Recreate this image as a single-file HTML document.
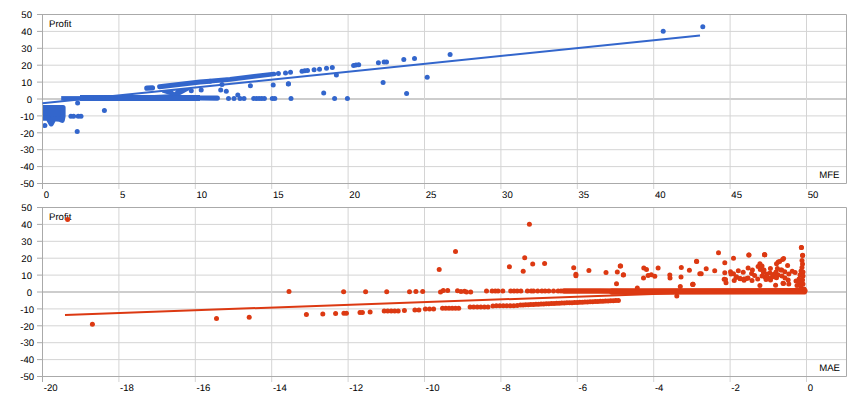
<!DOCTYPE html>
<html><head><meta charset="utf-8"><style>
html,body{margin:0;padding:0;background:#fff;width:860px;height:400px;overflow:hidden}
svg{display:block}
text{font-family:"Liberation Sans",sans-serif;font-size:9.6px;text-rendering:geometricPrecision;fill:#000000}
</style></head><body>
<svg width="860" height="400" viewBox="0 0 860 400">
<rect width="860" height="400" fill="#fff"/>
<line x1="42" y1="31.4" x2="846" y2="31.4" stroke="#d4d4d4" stroke-width="1"/>
<line x1="42" y1="48.3" x2="846" y2="48.3" stroke="#d4d4d4" stroke-width="1"/>
<line x1="42" y1="65.2" x2="846" y2="65.2" stroke="#d4d4d4" stroke-width="1"/>
<line x1="42" y1="82.1" x2="846" y2="82.1" stroke="#d4d4d4" stroke-width="1"/>
<line x1="42" y1="99" x2="846" y2="99" stroke="#cdcdcd" stroke-width="2"/>
<line x1="42" y1="115.9" x2="846" y2="115.9" stroke="#d4d4d4" stroke-width="1"/>
<line x1="42" y1="132.8" x2="846" y2="132.8" stroke="#d4d4d4" stroke-width="1"/>
<line x1="42" y1="149.7" x2="846" y2="149.7" stroke="#d4d4d4" stroke-width="1"/>
<line x1="42" y1="166.6" x2="846" y2="166.6" stroke="#d4d4d4" stroke-width="1"/>
<line x1="118.9" y1="14" x2="118.9" y2="189" stroke="#d4d4d4" stroke-width="1"/>
<line x1="195.3" y1="14" x2="195.3" y2="189" stroke="#d4d4d4" stroke-width="1"/>
<line x1="271.7" y1="14" x2="271.7" y2="189" stroke="#d4d4d4" stroke-width="1"/>
<line x1="348.1" y1="14" x2="348.1" y2="189" stroke="#d4d4d4" stroke-width="1"/>
<line x1="424.5" y1="14" x2="424.5" y2="189" stroke="#d4d4d4" stroke-width="1"/>
<line x1="500.9" y1="14" x2="500.9" y2="189" stroke="#d4d4d4" stroke-width="1"/>
<line x1="577.3" y1="14" x2="577.3" y2="189" stroke="#d4d4d4" stroke-width="1"/>
<line x1="653.7" y1="14" x2="653.7" y2="189" stroke="#d4d4d4" stroke-width="1"/>
<line x1="730.1" y1="14" x2="730.1" y2="189" stroke="#d4d4d4" stroke-width="1"/>
<line x1="806.5" y1="14" x2="806.5" y2="189" stroke="#d4d4d4" stroke-width="1"/>
<line x1="37" y1="14.5" x2="42" y2="14.5" stroke="#aaaaaa" stroke-width="1"/>
<line x1="37" y1="31.4" x2="42" y2="31.4" stroke="#aaaaaa" stroke-width="1"/>
<line x1="37" y1="48.3" x2="42" y2="48.3" stroke="#aaaaaa" stroke-width="1"/>
<line x1="37" y1="65.2" x2="42" y2="65.2" stroke="#aaaaaa" stroke-width="1"/>
<line x1="37" y1="82.1" x2="42" y2="82.1" stroke="#aaaaaa" stroke-width="1"/>
<line x1="37" y1="99" x2="42" y2="99" stroke="#aaaaaa" stroke-width="1"/>
<line x1="37" y1="115.9" x2="42" y2="115.9" stroke="#aaaaaa" stroke-width="1"/>
<line x1="37" y1="132.8" x2="42" y2="132.8" stroke="#aaaaaa" stroke-width="1"/>
<line x1="37" y1="149.7" x2="42" y2="149.7" stroke="#aaaaaa" stroke-width="1"/>
<line x1="37" y1="166.6" x2="42" y2="166.6" stroke="#aaaaaa" stroke-width="1"/>
<line x1="37" y1="183.5" x2="42" y2="183.5" stroke="#aaaaaa" stroke-width="1"/>
<line x1="42.5" y1="14" x2="42.5" y2="189" stroke="#aaaaaa" stroke-width="1"/>
<path d="M42 14.5 H846.5 V183.5 H42" fill="none" stroke="#aaaaaa" stroke-width="1"/>
<text x="32" y="18.2" text-anchor="end">50</text>
<text x="32" y="35.1" text-anchor="end">40</text>
<text x="32" y="52" text-anchor="end">30</text>
<text x="32" y="68.9" text-anchor="end">20</text>
<text x="32" y="85.8" text-anchor="end">10</text>
<text x="32" y="102.7" text-anchor="end">0</text>
<text x="34.2" y="119.6" text-anchor="end">-10</text>
<text x="34.2" y="136.5" text-anchor="end">-20</text>
<text x="34.2" y="153.4" text-anchor="end">-30</text>
<text x="34.2" y="170.3" text-anchor="end">-40</text>
<text x="34.2" y="187.2" text-anchor="end">-50</text>
<text x="43.7" y="198">0</text>
<text x="120.1" y="198">5</text>
<text x="196.5" y="198">10</text>
<text x="272.9" y="198">15</text>
<text x="349.3" y="198">20</text>
<text x="425.7" y="198">25</text>
<text x="502.1" y="198">30</text>
<text x="578.5" y="198">35</text>
<text x="654.9" y="198">40</text>
<text x="731.3" y="198">45</text>
<text x="807.7" y="198">50</text>
<text x="49" y="27">Profit</text>
<text x="819.2" y="178">MFE</text>
<g clip-path="url(#clip14)" fill="#3366cc" color="#3366cc" stroke="none"><path d="M40.0 107.4 L63.1 107.4 L63.1 116.2 L62.3 120.4 L59.5 119.2 L54.0 118.8 L51.2 124.0 L48.0 118.3 L40.0 118.3Z" stroke="currentColor" stroke-width="5" stroke-linejoin="round"/><rect x="61.2" y="96.1" width="19.8" height="4.4"/><rect x="80" y="95.0" width="120" height="6.0"/><path d="M200.0 98.0 L217.3 98.1" fill="none" stroke="currentColor" stroke-width="5.2" stroke-linecap="round" stroke-linejoin="round"/><path d="M146.9 88.1 L152.4 87.9" fill="none" stroke="currentColor" stroke-width="5.4" stroke-linecap="round" stroke-linejoin="round"/><path d="M159.6 86.7 L200.0 82.0 L210.0 81.2" fill="none" stroke="currentColor" stroke-width="5.0" stroke-linecap="round" stroke-linejoin="round"/><path d="M210.0 81.2 L230.0 79.3 L274.0 74.0" fill="none" stroke="currentColor" stroke-width="4.7" stroke-linecap="round" stroke-linejoin="round"/><path d="M128 96.2 L170 94.3 L172 97 L128 97Z"/><path d="M162 92.6 L170 95.0 L178.8 95.8 L189.5 90.0 L189.5 88.0 L162 91.2Z"/><path d="M172.3 90.6 L176.3 90.6 L174.3 92.3Z" fill="#fff"/><circle cx="663.2" cy="31.2" r="2.5"/><circle cx="702.8" cy="26.8" r="2.5"/><circle cx="44.9" cy="125.6" r="2.5"/><circle cx="77.6" cy="103" r="2.5"/><circle cx="77.2" cy="131.5" r="2.5"/><circle cx="104.4" cy="110.6" r="2.5"/><circle cx="70.9" cy="116.3" r="2.5"/><circle cx="73.6" cy="116.3" r="2.5"/><circle cx="78.2" cy="116.3" r="2.5"/><circle cx="81" cy="116.3" r="2.5"/><circle cx="191.3" cy="90.8" r="2.5"/><circle cx="201.2" cy="89.9" r="2.5"/><circle cx="220.7" cy="89.9" r="2.5"/><circle cx="226.3" cy="91.3" r="2.5"/><circle cx="222" cy="84.6" r="2.5"/><circle cx="228.5" cy="98.4" r="2.5"/><circle cx="234" cy="98.4" r="2.5"/><circle cx="237.8" cy="94.9" r="2.5"/><circle cx="240" cy="98.4" r="2.5"/><circle cx="244" cy="98.4" r="2.5"/><circle cx="253.7" cy="98.4" r="2.5"/><circle cx="256.38" cy="98.4" r="2.5"/><circle cx="259.05" cy="98.4" r="2.5"/><circle cx="261.72" cy="98.4" r="2.5"/><circle cx="264.4" cy="98.4" r="2.5"/><circle cx="272.3" cy="98.4" r="2.5"/><circle cx="274.8" cy="98.4" r="2.5"/><circle cx="291" cy="98.4" r="2.5"/><circle cx="250.4" cy="85.8" r="2.5"/><circle cx="273.2" cy="85.1" r="2.5"/><circle cx="288.3" cy="84" r="2.5"/><circle cx="288.5" cy="83.7" r="2.5"/><circle cx="278.4" cy="73.5" r="2.5"/><circle cx="285.5" cy="73.1" r="2.5"/><circle cx="290.5" cy="72.3" r="2.5"/><circle cx="302" cy="71.3" r="2.5"/><circle cx="304.8" cy="70.8" r="2.5"/><circle cx="307.5" cy="70.4" r="2.5"/><circle cx="314.1" cy="69.7" r="2.5"/><circle cx="319.5" cy="69.3" r="2.5"/><circle cx="326.5" cy="68.3" r="2.5"/><circle cx="332.3" cy="67.6" r="2.5"/><circle cx="336.4" cy="75" r="2.5"/><circle cx="353.6" cy="65.4" r="2.5"/><circle cx="356" cy="65" r="2.5"/><circle cx="358.7" cy="64.7" r="2.5"/><circle cx="378.4" cy="62.8" r="2.5"/><circle cx="384.1" cy="61.9" r="2.5"/><circle cx="386.5" cy="61.9" r="2.5"/><circle cx="403.8" cy="59.6" r="2.5"/><circle cx="414.5" cy="58.5" r="2.5"/><circle cx="450.1" cy="54.4" r="2.5"/><circle cx="383.1" cy="82.5" r="2.5"/><circle cx="406.6" cy="93.4" r="2.5"/><circle cx="427.2" cy="77.3" r="2.5"/><circle cx="323.7" cy="92.9" r="2.5"/><circle cx="334.6" cy="98.4" r="2.5"/><circle cx="347.4" cy="98.4" r="2.5"/></g>
<clipPath id="clip14"><rect x="43" y="15" width="803" height="168"/></clipPath>
<line x1="42.5" y1="103.3" x2="700" y2="35.5" stroke="#3366cc" stroke-width="2"/>
<line x1="42" y1="224.4" x2="846" y2="224.4" stroke="#d4d4d4" stroke-width="1"/>
<line x1="42" y1="241.3" x2="846" y2="241.3" stroke="#d4d4d4" stroke-width="1"/>
<line x1="42" y1="258.2" x2="846" y2="258.2" stroke="#d4d4d4" stroke-width="1"/>
<line x1="42" y1="275.1" x2="846" y2="275.1" stroke="#d4d4d4" stroke-width="1"/>
<line x1="42" y1="292" x2="846" y2="292" stroke="#cdcdcd" stroke-width="2"/>
<line x1="42" y1="308.9" x2="846" y2="308.9" stroke="#d4d4d4" stroke-width="1"/>
<line x1="42" y1="325.8" x2="846" y2="325.8" stroke="#d4d4d4" stroke-width="1"/>
<line x1="42" y1="342.7" x2="846" y2="342.7" stroke="#d4d4d4" stroke-width="1"/>
<line x1="42" y1="359.6" x2="846" y2="359.6" stroke="#d4d4d4" stroke-width="1"/>
<line x1="118.9" y1="207" x2="118.9" y2="382" stroke="#d4d4d4" stroke-width="1"/>
<line x1="195.3" y1="207" x2="195.3" y2="382" stroke="#d4d4d4" stroke-width="1"/>
<line x1="271.7" y1="207" x2="271.7" y2="382" stroke="#d4d4d4" stroke-width="1"/>
<line x1="348.1" y1="207" x2="348.1" y2="382" stroke="#d4d4d4" stroke-width="1"/>
<line x1="424.5" y1="207" x2="424.5" y2="382" stroke="#d4d4d4" stroke-width="1"/>
<line x1="500.9" y1="207" x2="500.9" y2="382" stroke="#d4d4d4" stroke-width="1"/>
<line x1="577.3" y1="207" x2="577.3" y2="382" stroke="#d4d4d4" stroke-width="1"/>
<line x1="653.7" y1="207" x2="653.7" y2="382" stroke="#d4d4d4" stroke-width="1"/>
<line x1="730.1" y1="207" x2="730.1" y2="382" stroke="#d4d4d4" stroke-width="1"/>
<line x1="806.5" y1="207" x2="806.5" y2="382" stroke="#d4d4d4" stroke-width="1"/>
<line x1="37" y1="207.5" x2="42" y2="207.5" stroke="#aaaaaa" stroke-width="1"/>
<line x1="37" y1="224.4" x2="42" y2="224.4" stroke="#aaaaaa" stroke-width="1"/>
<line x1="37" y1="241.3" x2="42" y2="241.3" stroke="#aaaaaa" stroke-width="1"/>
<line x1="37" y1="258.2" x2="42" y2="258.2" stroke="#aaaaaa" stroke-width="1"/>
<line x1="37" y1="275.1" x2="42" y2="275.1" stroke="#aaaaaa" stroke-width="1"/>
<line x1="37" y1="292" x2="42" y2="292" stroke="#aaaaaa" stroke-width="1"/>
<line x1="37" y1="308.9" x2="42" y2="308.9" stroke="#aaaaaa" stroke-width="1"/>
<line x1="37" y1="325.8" x2="42" y2="325.8" stroke="#aaaaaa" stroke-width="1"/>
<line x1="37" y1="342.7" x2="42" y2="342.7" stroke="#aaaaaa" stroke-width="1"/>
<line x1="37" y1="359.6" x2="42" y2="359.6" stroke="#aaaaaa" stroke-width="1"/>
<line x1="37" y1="376.5" x2="42" y2="376.5" stroke="#aaaaaa" stroke-width="1"/>
<line x1="42.5" y1="207" x2="42.5" y2="382" stroke="#aaaaaa" stroke-width="1"/>
<path d="M42 207.5 H846.5 V376.5 H42" fill="none" stroke="#aaaaaa" stroke-width="1"/>
<text x="32" y="211.2" text-anchor="end">50</text>
<text x="32" y="228.1" text-anchor="end">40</text>
<text x="32" y="245" text-anchor="end">30</text>
<text x="32" y="261.9" text-anchor="end">20</text>
<text x="32" y="278.8" text-anchor="end">10</text>
<text x="32" y="295.7" text-anchor="end">0</text>
<text x="34.2" y="312.6" text-anchor="end">-10</text>
<text x="34.2" y="329.5" text-anchor="end">-20</text>
<text x="34.2" y="346.4" text-anchor="end">-30</text>
<text x="34.2" y="363.3" text-anchor="end">-40</text>
<text x="34.2" y="380.2" text-anchor="end">-50</text>
<text x="43.7" y="391">-20</text>
<text x="120.1" y="391">-18</text>
<text x="196.5" y="391">-16</text>
<text x="272.9" y="391">-14</text>
<text x="349.3" y="391">-12</text>
<text x="425.7" y="391">-10</text>
<text x="502.1" y="391">-8</text>
<text x="578.5" y="391">-6</text>
<text x="654.9" y="391">-4</text>
<text x="731.3" y="391">-2</text>
<text x="807.7" y="391">0</text>
<text x="49" y="220">Profit</text>
<text x="819.2" y="371">MAE</text>
<g clip-path="url(#clip207)" fill="#dc3912" color="#dc3912" stroke="none"><path d="M564.0 291.0 L600.0 291.0 L640.0 291.2 L804.5 291.0" fill="none" stroke="currentColor" stroke-width="5.5" stroke-linecap="round" stroke-linejoin="round"/><path d="M612.0 291.6 L804.0 291.4" fill="none" stroke="currentColor" stroke-width="6.2" stroke-linecap="round" stroke-linejoin="round"/><circle cx="520.5" cy="305" r="2.5"/><circle cx="523.08" cy="304.88" r="2.5"/><circle cx="525.65" cy="304.76" r="2.5"/><circle cx="528.23" cy="304.64" r="2.5"/><circle cx="530.81" cy="304.53" r="2.5"/><circle cx="533.38" cy="304.41" r="2.5"/><circle cx="535.96" cy="304.29" r="2.5"/><circle cx="538.53" cy="304.17" r="2.5"/><circle cx="541.11" cy="304.05" r="2.5"/><circle cx="543.69" cy="303.93" r="2.5"/><circle cx="546.26" cy="303.82" r="2.5"/><circle cx="548.84" cy="303.7" r="2.5"/><circle cx="551.42" cy="303.58" r="2.5"/><circle cx="553.99" cy="303.46" r="2.5"/><circle cx="556.57" cy="303.34" r="2.5"/><circle cx="559.14" cy="303.22" r="2.5"/><circle cx="561.72" cy="303.11" r="2.5"/><circle cx="564.3" cy="302.99" r="2.5"/><circle cx="566.87" cy="302.87" r="2.5"/><circle cx="569.45" cy="302.75" r="2.5"/><circle cx="572.03" cy="302.63" r="2.5"/><circle cx="574.6" cy="302.51" r="2.5"/><circle cx="577.18" cy="302.39" r="2.5"/><circle cx="579.76" cy="302.28" r="2.5"/><circle cx="582.33" cy="302.16" r="2.5"/><circle cx="584.91" cy="302.04" r="2.5"/><circle cx="587.48" cy="301.92" r="2.5"/><circle cx="590.06" cy="301.8" r="2.5"/><circle cx="592.64" cy="301.68" r="2.5"/><circle cx="595.21" cy="301.57" r="2.5"/><circle cx="597.79" cy="301.45" r="2.5"/><circle cx="600.37" cy="301.33" r="2.5"/><circle cx="602.94" cy="301.21" r="2.5"/><circle cx="605.52" cy="301.09" r="2.5"/><circle cx="608.09" cy="300.97" r="2.5"/><circle cx="610.67" cy="300.86" r="2.5"/><circle cx="613.25" cy="300.74" r="2.5"/><circle cx="615.82" cy="300.62" r="2.5"/><circle cx="618.4" cy="300.5" r="2.5"/><circle cx="486.5" cy="290.9" r="2.5"/><circle cx="492.1" cy="290.9" r="2.5"/><circle cx="495.3" cy="290.9" r="2.5"/><circle cx="498.1" cy="290.9" r="2.5"/><circle cx="502.8" cy="290.9" r="2.5"/><circle cx="510.7" cy="290.9" r="2.5"/><circle cx="514" cy="290.9" r="2.5"/><circle cx="517.2" cy="290.9" r="2.5"/><circle cx="520.9" cy="290.9" r="2.5"/><circle cx="527.4" cy="290.9" r="2.5"/><circle cx="531.2" cy="290.9" r="2.5"/><circle cx="533.5" cy="290.9" r="2.5"/><circle cx="537.7" cy="290.9" r="2.5"/><circle cx="541.9" cy="290.9" r="2.5"/><circle cx="545.1" cy="290.9" r="2.5"/><circle cx="548.8" cy="290.9" r="2.5"/><circle cx="553.5" cy="290.9" r="2.5"/><circle cx="558.1" cy="290.9" r="2.5"/><circle cx="561" cy="290.9" r="2.5"/><circle cx="425.4" cy="309.1" r="2.5"/><circle cx="429.5" cy="309.1" r="2.5"/><circle cx="433.6" cy="309.1" r="2.5"/><circle cx="442.5" cy="308.3" r="2.5"/><circle cx="445.74" cy="308.3" r="2.5"/><circle cx="448.98" cy="308.3" r="2.5"/><circle cx="452.22" cy="308.3" r="2.5"/><circle cx="455.46" cy="308.3" r="2.5"/><circle cx="458.7" cy="308.3" r="2.5"/><circle cx="470.1" cy="307" r="2.5"/><circle cx="473.68" cy="307" r="2.5"/><circle cx="477.26" cy="307" r="2.5"/><circle cx="480.84" cy="307" r="2.5"/><circle cx="484.42" cy="307" r="2.5"/><circle cx="488" cy="307" r="2.5"/><circle cx="492.9" cy="305.9" r="2.5"/><circle cx="496.37" cy="305.86" r="2.5"/><circle cx="499.84" cy="305.81" r="2.5"/><circle cx="503.31" cy="305.77" r="2.5"/><circle cx="506.79" cy="305.73" r="2.5"/><circle cx="510.26" cy="305.69" r="2.5"/><circle cx="513.73" cy="305.64" r="2.5"/><circle cx="517.2" cy="305.6" r="2.5"/><circle cx="384.2" cy="311" r="2.5"/><circle cx="387.7" cy="311" r="2.5"/><circle cx="391.2" cy="311" r="2.5"/><circle cx="394.7" cy="311" r="2.5"/><circle cx="398.2" cy="311" r="2.5"/><circle cx="414.9" cy="310" r="2.5"/><circle cx="418.9" cy="309.9" r="2.5"/><circle cx="67.6" cy="219.6" r="2.5"/><circle cx="92.4" cy="324.3" r="2.5"/><circle cx="216.5" cy="318.4" r="2.5"/><circle cx="249.2" cy="317.2" r="2.5"/><circle cx="289" cy="291.4" r="2.5"/><circle cx="306.4" cy="314.4" r="2.5"/><circle cx="343.6" cy="291.8" r="2.5"/><circle cx="365.6" cy="291.8" r="2.5"/><circle cx="386.7" cy="291.8" r="2.5"/><circle cx="409.5" cy="291.8" r="2.5"/><circle cx="415.9" cy="291.5" r="2.5"/><circle cx="422.7" cy="291.5" r="2.5"/><circle cx="322.8" cy="314.1" r="2.5"/><circle cx="335.6" cy="313.5" r="2.5"/><circle cx="343.9" cy="313.2" r="2.5"/><circle cx="346.4" cy="313.2" r="2.5"/><circle cx="360" cy="312.4" r="2.5"/><circle cx="362.4" cy="312.4" r="2.5"/><circle cx="370.1" cy="312" r="2.5"/><circle cx="404.4" cy="310.4" r="2.5"/><circle cx="439.2" cy="269.6" r="2.5"/><circle cx="509.4" cy="266.7" r="2.5"/><circle cx="529.4" cy="224.3" r="2.5"/><circle cx="455.5" cy="251.6" r="2.5"/><circle cx="524.7" cy="257.8" r="2.5"/><circle cx="532.7" cy="263.9" r="2.5"/><circle cx="544.6" cy="263.5" r="2.5"/><circle cx="523.2" cy="271.2" r="2.5"/><circle cx="440.5" cy="292" r="2.5"/><circle cx="443.3" cy="290.5" r="2.5"/><circle cx="447.7" cy="290.5" r="2.5"/><circle cx="457.5" cy="290.8" r="2.5"/><circle cx="461" cy="291.6" r="2.5"/><circle cx="464.5" cy="291.2" r="2.5"/><circle cx="466.5" cy="292" r="2.5"/><circle cx="470.7" cy="292" r="2.5"/><circle cx="573.7" cy="267.7" r="2.5"/><circle cx="575.9" cy="274.2" r="2.5"/><circle cx="575.9" cy="275.8" r="2.5"/><circle cx="588.9" cy="270.4" r="2.5"/><circle cx="606" cy="272.6" r="2.5"/><circle cx="620.2" cy="265.9" r="2.5"/><circle cx="617.3" cy="272.1" r="2.5"/><circle cx="623.3" cy="275" r="2.5"/><circle cx="616.5" cy="283.8" r="2.5"/><circle cx="620.6" cy="266" r="2.5"/><circle cx="623.5" cy="274.8" r="2.5"/><circle cx="643.8" cy="268.1" r="2.5"/><circle cx="646.5" cy="269.4" r="2.5"/><circle cx="648.1" cy="275.6" r="2.5"/><circle cx="651.3" cy="274.8" r="2.5"/><circle cx="654.8" cy="276.3" r="2.5"/><circle cx="643.5" cy="277.9" r="2.5"/><circle cx="658.1" cy="268.1" r="2.5"/><circle cx="669.8" cy="275" r="2.5"/><circle cx="670" cy="278.1" r="2.5"/><circle cx="681.3" cy="267.5" r="2.5"/><circle cx="681" cy="276.9" r="2.5"/><circle cx="689.4" cy="270.3" r="2.5"/><circle cx="696.5" cy="261.3" r="2.5"/><circle cx="699.8" cy="273.8" r="2.5"/><circle cx="692.8" cy="284.4" r="2.5"/><circle cx="637.3" cy="288.1" r="2.5"/><circle cx="680.3" cy="286.5" r="2.5"/><circle cx="676.8" cy="296" r="2.5"/><circle cx="693" cy="284.2" r="2.5"/><circle cx="718.5" cy="252.7" r="2.5"/><circle cx="696.7" cy="261.4" r="2.5"/><circle cx="701.2" cy="273.7" r="2.5"/><circle cx="706.2" cy="268.8" r="2.5"/><circle cx="714.7" cy="270.7" r="2.5"/><circle cx="692.7" cy="284.2" r="2.5"/><circle cx="724.8" cy="262.8" r="2.5"/><circle cx="733.5" cy="258.3" r="2.5"/><circle cx="748.9" cy="255" r="2.5"/><circle cx="764.5" cy="254.7" r="2.5"/><circle cx="724.8" cy="272.7" r="2.5"/><circle cx="724.2" cy="279.3" r="2.5"/><circle cx="726" cy="282.7" r="2.5"/><circle cx="730.5" cy="271.8" r="2.5"/><circle cx="733.5" cy="273.7" r="2.5"/><circle cx="734.2" cy="280.5" r="2.5"/><circle cx="738.3" cy="270.7" r="2.5"/><circle cx="736.5" cy="276.7" r="2.5"/><circle cx="740.2" cy="278.7" r="2.5"/><circle cx="743.2" cy="272.2" r="2.5"/><circle cx="744" cy="280.2" r="2.5"/><circle cx="801.4" cy="247.6" r="2.5"/><circle cx="802.6" cy="255.5" r="2.5"/><circle cx="764.8" cy="254.7" r="2.5"/><circle cx="748.9" cy="255" r="2.5"/><circle cx="764.6" cy="254.8" r="2.5"/><circle cx="801.4" cy="247.6" r="2.5"/><circle cx="802.6" cy="255.3" r="2.5"/><circle cx="759.9" cy="263.7" r="2.5"/><circle cx="758.1" cy="266.4" r="2.5"/><circle cx="760.3" cy="269.4" r="2.5"/><circle cx="763.4" cy="272.5" r="2.5"/><circle cx="765.1" cy="276.9" r="2.5"/><circle cx="768.6" cy="278.2" r="2.5"/><circle cx="772.1" cy="276.9" r="2.5"/><circle cx="773.9" cy="274.2" r="2.5"/><circle cx="770.4" cy="268.6" r="2.5"/><circle cx="762" cy="266" r="2.5"/><circle cx="764" cy="270" r="2.5"/><circle cx="767" cy="274" r="2.5"/><circle cx="770" cy="273" r="2.5"/><circle cx="766" cy="279.5" r="2.5"/><circle cx="762" cy="276" r="2.5"/><circle cx="770.5" cy="280" r="2.5"/><circle cx="775.5" cy="277" r="2.5"/><circle cx="776" cy="272" r="2.5"/><circle cx="748.1" cy="268.1" r="2.5"/><circle cx="752.4" cy="269.9" r="2.5"/><circle cx="751.6" cy="273.4" r="2.5"/><circle cx="754.6" cy="275.6" r="2.5"/><circle cx="746.7" cy="278.6" r="2.5"/><circle cx="752" cy="280.4" r="2.5"/><circle cx="757.7" cy="279.1" r="2.5"/><circle cx="759.9" cy="285.6" r="2.5"/><circle cx="778.2" cy="262" r="2.5"/><circle cx="782.6" cy="259.4" r="2.5"/><circle cx="776.5" cy="263.7" r="2.5"/><circle cx="777.4" cy="268.6" r="2.5"/><circle cx="781.7" cy="269.9" r="2.5"/><circle cx="778.2" cy="275.1" r="2.5"/><circle cx="776.5" cy="277.7" r="2.5"/><circle cx="775.6" cy="285.2" r="2.5"/><circle cx="783.5" cy="283.4" r="2.5"/><circle cx="779.6" cy="261.5" r="2.5"/><circle cx="783.6" cy="258.6" r="2.5"/><circle cx="787.6" cy="265.5" r="2.5"/><circle cx="792.2" cy="271.3" r="2.5"/><circle cx="795.1" cy="272.4" r="2.5"/><circle cx="788.8" cy="274.1" r="2.5"/><circle cx="788.2" cy="279.9" r="2.5"/><circle cx="784.8" cy="271.8" r="2.5"/><circle cx="780.7" cy="270.1" r="2.5"/><circle cx="783" cy="283.3" r="2.5"/><circle cx="788.8" cy="283.9" r="2.5"/><circle cx="782" cy="276" r="2.5"/><circle cx="785" cy="278" r="2.5"/><circle cx="736" cy="277.5" r="2.5"/><circle cx="740" cy="278.5" r="2.5"/><circle cx="744" cy="279" r="2.5"/><circle cx="748" cy="278" r="2.5"/><circle cx="731" cy="274" r="2.5"/><circle cx="725.5" cy="279.5" r="2.5"/><circle cx="802" cy="260.5" r="2.5"/><circle cx="802.5" cy="264" r="2.5"/><circle cx="802" cy="267.5" r="2.5"/><circle cx="801" cy="271" r="2.5"/><circle cx="803" cy="272" r="2.5"/><circle cx="800" cy="275" r="2.5"/><circle cx="803" cy="276" r="2.5"/><circle cx="799" cy="279" r="2.5"/><circle cx="802.5" cy="280" r="2.5"/><circle cx="796" cy="281" r="2.5"/><circle cx="799.5" cy="283" r="2.5"/><circle cx="803" cy="284" r="2.5"/><circle cx="797" cy="285.5" r="2.5"/><circle cx="801" cy="287" r="2.5"/><circle cx="804" cy="289" r="2.5"/><circle cx="805" cy="290.5" r="2.5"/></g>
<clipPath id="clip207"><rect x="43" y="208" width="803" height="168"/></clipPath>
<line x1="65" y1="314.9" x2="806" y2="288.6" stroke="#dc3912" stroke-width="2"/>
</svg>
</body></html>
